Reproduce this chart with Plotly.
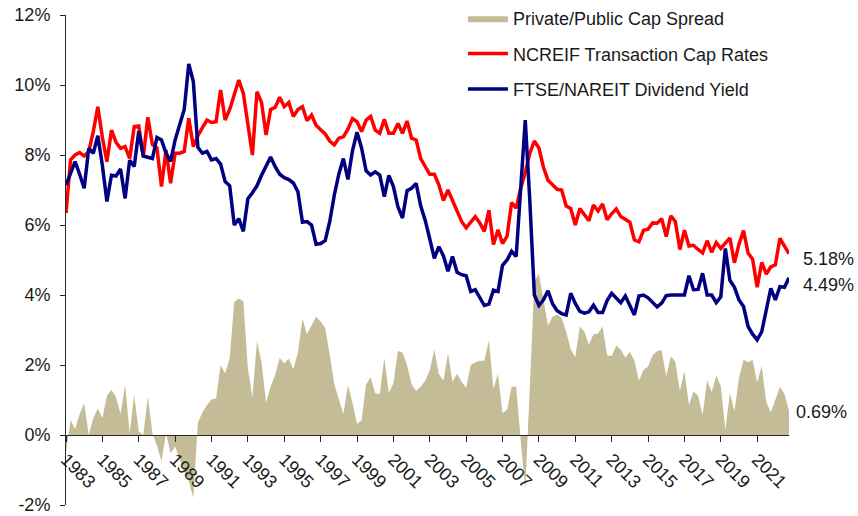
import plotly.graph_objects as go

# Quarterly categories, 1983Q1 .. 2022Q4
quarters = [f"{y}Q{q}" for y in range(1983, 2023) for q in range(1, 5)]

ncreif_cap = [
    6.34, 7.86, 8.00, 8.07, 7.97, 8.10, 8.67, 9.38, 8.50, 7.81,
    8.71, 8.36, 8.19, 8.24, 7.90, 8.81, 8.83, 7.95, 9.08, 8.30,
    8.20, 7.10, 8.14, 7.19, 8.05, 8.05, 8.10, 9.05, 8.24, 8.55,
    8.78, 9.00, 8.93, 8.95, 9.86, 9.00, 9.30, 9.70, 10.14, 9.76,
    8.85, 8.00, 9.81, 9.50, 8.57, 9.30, 9.36, 9.65, 9.38, 9.50,
    9.10, 9.30, 9.38, 8.98, 9.14, 8.85, 8.72, 8.60, 8.40, 8.29,
    8.48, 8.52, 8.74, 9.04, 8.95, 8.67, 9.00, 9.10, 8.71, 8.62,
    9.02, 8.62, 8.62, 8.90, 8.62, 8.97, 8.48, 8.43, 7.90, 7.65,
    7.45, 7.45, 7.15, 6.70, 7.00, 6.70, 6.40, 6.10, 5.92, 6.08,
    6.24, 6.06, 5.82, 6.42, 5.44, 5.86, 5.47, 5.68, 6.64, 6.48,
    7.05, 7.50, 8.05, 8.40, 8.20, 7.65, 7.28, 7.15, 7.02, 7.00,
    6.54, 6.47, 6.00, 6.47, 6.29, 6.12, 6.57, 6.40, 6.60, 6.15,
    6.32, 6.46, 6.24, 6.16, 6.08, 5.57, 5.52, 5.85, 5.88, 6.06,
    6.05, 6.18, 5.67, 6.26, 6.10, 5.30, 5.85, 5.40, 5.42, 5.30,
    5.20, 5.55, 5.22, 5.50, 5.33, 5.48, 5.63, 4.92, 5.45, 5.84,
    5.20, 5.02, 4.22, 4.93, 4.60, 4.80, 4.86, 5.62, 5.38, 5.18,
]

ftse_yield = [
    7.14, 7.50, 7.81, 7.45, 7.05, 8.19, 8.05, 8.55, 7.70, 6.67,
    7.42, 7.40, 7.60, 6.76, 7.85, 7.67, 8.68, 7.97, 7.93, 7.90,
    8.50, 8.43, 8.05, 7.82, 8.43, 8.90, 9.30, 10.60, 10.10, 8.22,
    8.05, 8.10, 7.86, 7.90, 7.74, 7.24, 7.12, 6.00, 6.18, 5.82,
    6.75, 6.92, 7.12, 7.42, 7.67, 7.94, 7.67, 7.45, 7.35, 7.30,
    7.20, 6.95, 6.08, 6.10, 6.00, 5.45, 5.47, 5.55, 6.10, 6.85,
    7.45, 7.90, 7.30, 8.12, 8.65, 8.20, 7.55, 7.43, 7.52, 7.43,
    6.81, 7.42, 7.10, 6.52, 6.20, 6.98, 7.05, 7.19, 6.55, 6.13,
    5.60, 5.05, 5.38, 5.12, 4.68, 5.10, 4.65, 4.58, 4.55, 4.10,
    4.15, 3.92, 3.70, 3.74, 4.14, 4.10, 4.85, 5.00, 5.25, 5.10,
    7.20, 9.00, 6.70, 4.00, 3.70, 3.86, 4.12, 3.75, 3.55, 3.47,
    3.43, 4.05, 3.76, 3.53, 3.48, 3.52, 3.71, 3.50, 3.50, 3.84,
    4.05, 3.90, 3.78, 3.97, 3.71, 3.43, 3.97, 4.00, 3.92, 3.79,
    3.66, 3.77, 3.98, 4.00, 4.00, 4.02, 4.00, 4.55, 4.15, 4.16,
    4.62, 4.00, 4.00, 3.78, 3.95, 5.33, 4.42, 4.22, 3.86, 3.67,
    3.10, 2.88, 2.72, 2.95, 3.62, 4.19, 3.86, 4.24, 4.22, 4.49,
]

cap_spread = [
    -0.50, 0.42, 0.17, 0.60, 0.90, 0.00, 0.48, 0.76, 0.48, 1.12,
    1.29, 1.08, 0.60, 1.43, 0.05, 1.14, 0.10, 0.00, 1.10, 0.05,
    -0.30, -0.75, 0.05, -0.52, -0.33, -0.71, -1.05, -1.30, -1.80, 0.35,
    0.65, 0.85, 1.02, 1.04, 2.00, 1.76, 2.20, 3.80, 3.90, 3.82,
    1.90, 1.08, 2.68, 2.08, 0.92, 1.38, 1.72, 2.20, 2.04, 2.18,
    1.88, 2.36, 3.32, 2.88, 3.14, 3.38, 3.24, 3.06, 2.30, 1.46,
    1.02, 0.60, 1.42, 0.92, 0.32, 0.42, 1.44, 1.65, 1.19, 1.17,
    2.20, 1.20, 1.48, 2.40, 2.36, 2.00, 1.45, 1.26, 1.38, 1.55,
    1.85, 2.44, 1.74, 1.55, 2.33, 1.52, 1.75, 1.52, 1.35, 2.00,
    2.07, 2.12, 2.12, 2.70, 1.32, 1.74, 0.62, 0.72, 1.38, 1.38,
    -0.15, -1.55, 1.35, 4.40, 4.60, 3.90, 3.12, 3.38, 3.44, 3.35,
    2.95, 2.45, 2.22, 3.10, 2.95, 2.58, 2.88, 2.90, 3.10, 2.28,
    2.26, 2.55, 2.44, 2.21, 2.38, 2.12, 1.55, 1.86, 1.96, 2.28,
    2.40, 2.42, 1.68, 2.25, 2.09, 1.26, 1.83, 0.86, 1.24, 1.12,
    0.58, 1.56, 1.22, 1.70, 1.40, 0.15, 1.20, 0.68, 1.63, 2.15,
    2.08, 2.14, 1.50, 1.97, 0.95, 0.64, 1.00, 1.37, 1.17, 0.69,
]

x_tick_years = list(range(1983, 2022, 2))
x_tick_labels = [str(y) for y in x_tick_years]
y_tick_values = [-2, 0, 2, 4, 6, 8, 10, 12]
y_tick_labels = ["-2%", "0%", "2%", "4%", "6%", "8%", "10%", "12%"]

# convert "YYYYQn" to a numeric time position
xs = [int(q[:4]) + (int(q[-1]) - 1) / 4 for q in quarters]

FONT = "Liberation Sans, Arial, sans-serif"
TAN = "#C4BC96"
RED = "#FF0000"
NAVY = "#000080"

fig = go.Figure()
fig.add_trace(go.Scatter(
    x=xs, y=cap_spread, name="Private/Public Cap Spread", mode="lines",
    fill="tozeroy", fillcolor=TAN, line=dict(width=0, color=TAN),
    legendgroup="g1"))
fig.add_trace(go.Scatter(
    x=xs, y=ncreif_cap, name="NCREIF Transaction Cap Rates", mode="lines",
    line=dict(width=3.5, color=RED), legendgroup="g2"))
fig.add_trace(go.Scatter(
    x=xs, y=ftse_yield, name="FTSE/NAREIT Dividend Yield", mode="lines",
    line=dict(width=3.5, color=NAVY), legendgroup="g3"))

ann = [
    dict(v=ncreif_cap[-1], xs=12, ys=-5),
    dict(v=ftse_yield[-1], xs=12, ys=-7),
    dict(v=cap_spread[-1], xs=5, ys=-1),
]
for a in ann:
    fig.add_annotation(x=xs[-1], y=a["v"], xref="x", yref="y",
                       text=f"{a['v']:.2f}%", showarrow=False,
                       xanchor="left", yanchor="middle",
                       xshift=a["xs"], yshift=a["ys"],
                       font=dict(family=FONT, size=18, color="#1a1a1a"))

W, H = 858, 516
M_L, M_R, M_T, M_B = 66, 69, 0, 11
plot_top_px = 15
paper_h = H - M_T - M_B
y_dom_top = (paper_h - (plot_top_px - M_T)) / paper_h

ymin, ymax = -2, 12
fig.update_layout(
    width=W, height=H,
    margin=dict(l=M_L, r=M_R, t=M_T, b=M_B),
    paper_bgcolor="white", plot_bgcolor="white",
    font=dict(family=FONT, size=18, color="#1a1a1a"),
    showlegend=True,
    legend=dict(x=0.549, y=1.0, xanchor="left", yanchor="top",
                bgcolor="rgba(0,0,0,0)", itemwidth=40, tracegroupgap=9,
                font=dict(family=FONT, size=18, color="#1a1a1a")),
    xaxis=dict(range=[xs[0], xs[-1]], anchor="free",
               position=y_dom_top * (0 - ymin) / (ymax - ymin),
               showline=True, linecolor="#262626", linewidth=1,
               ticks="outside", ticklen=6, tickcolor="#262626",
               tickvals=x_tick_years, ticktext=x_tick_labels,
               tickangle=45, showgrid=False, zeroline=False,
               automargin=False),
    yaxis=dict(range=[ymin, ymax], domain=[0, y_dom_top],
               tickvals=y_tick_values,
               ticktext=y_tick_labels, showline=True, linecolor="#262626",
               linewidth=1, ticks="outside", ticklen=5, tickcolor="#262626",
               showgrid=False, zeroline=False, automargin=False,
               ticklabelstandoff=6),
)

fig.write_html("out.html", config={"displayModeBar": False},
               post_script="document.body.style.margin='0';")
